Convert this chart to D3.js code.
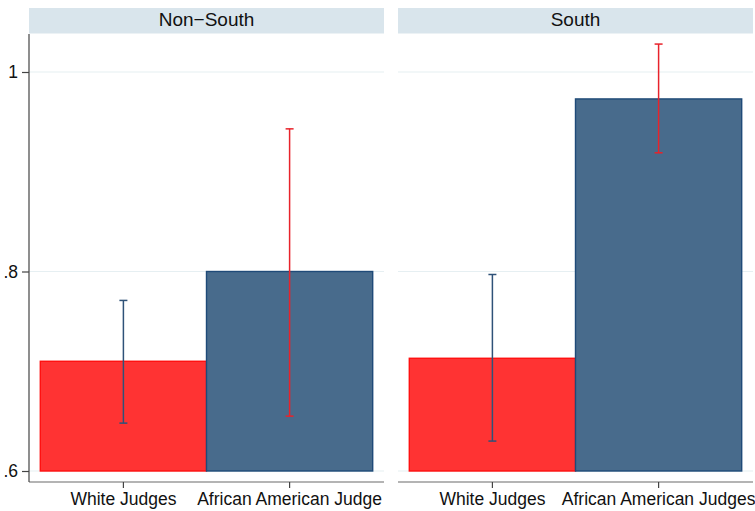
<!DOCTYPE html>
<html>
<head>
<meta charset="utf-8">
<title>Judges by region</title>
<style>
  body { margin: 0; background: #fff; font-family: "Liberation Sans", Arial, Helvetica, sans-serif; }
  text { font-family: "Liberation Sans", Arial, Helvetica, sans-serif; }
</style>
</head>
<body>
<svg id="chart"></svg>
<script src="https://d3js.org/d3.v7.min.js"></script>
<script>
// data
const panels = ["Non\u2212South", "South"];
const groups = ["white", "black"];
const groupLabels = [
  ["White Judges", "African American Judge"],
  ["White Judges", "African American Judges"]
];
const means = [[0.710, 0.800], [0.713, 0.973]];
const lower = [[0.648, 0.655], [0.630, 0.919]];
const upper = [[0.771, 0.943], [0.797, 1.028]];
const yTicks = [0.6, 0.8, 1];

const width = 755, height = 511;
const barFill = ["#ff3333", "#486b8c"];
const barStroke = ["#ff1010", "#1f4a78"];
const errColor = ["#2f5278", "#e8232b"];

const svg = d3.select("#chart").attr("width", width).attr("height", height);

const panelX = [29, 398];
const panelW = 355;
const plotTop = 34, plotBottom = 482;

const y = d3.scaleLinear().domain([0.6, 1]).range([471, 72]);
const x = d3.scaleBand().domain(groups).range([0, panelW]).paddingInner(0).paddingOuter(0.068);

function translate(a, b) { return "translate(" + a + "," + b + ")"; }
const fmt = d => d === 1 ? "1" : d3.format(".1f")(d).replace(/^0/, "");

panels.forEach((name, p) => {
  const g = svg.append("g").attr("transform", translate(panelX[p], 0));

  // header strip
  g.append("rect")
    .attr("x", 0).attr("y", 8)
    .attr("width", panelW).attr("height", 25.5)
    .attr("fill", "#d9e5ec");
  g.append("text")
    .attr("x", panelW / 2).attr("y", 26)
    .attr("text-anchor", "middle")
    .style("font-size", "19px")
    .attr("fill", "#111")
    .text(name);

  // gridlines
  g.append("g").selectAll("line")
    .data(yTicks)
    .enter().append("line")
      .attr("x1", 0).attr("x2", panelW)
      .attr("y1", d => y(d)).attr("y2", d => y(d))
      .attr("stroke", "#e6eff2")
      .attr("stroke-width", 1.2);

  // bars
  g.append("g").selectAll("rect")
    .data(groups)
    .enter().append("rect")
      .attr("x", d => x(d))
      .attr("width", x.bandwidth())
      .attr("y", (d, i) => y(means[p][i]))
      .attr("height", (d, i) => y(0.6) - y(means[p][i]))
      .attr("fill", (d, i) => barFill[i])
      .attr("stroke", (d, i) => barStroke[i])
      .attr("stroke-width", 1.4);

  // error bars
  const eb = g.append("g").selectAll("g")
    .data(groups)
    .enter().append("g")
      .attr("stroke", (d, i) => errColor[i])
      .attr("stroke-width", 1.5);
  const cx = d => x(d) + x.bandwidth() / 2;
  eb.append("line")
    .attr("x1", cx).attr("x2", cx)
    .attr("y1", (d, i) => y(lower[p][i]))
    .attr("y2", (d, i) => y(upper[p][i]));
  eb.append("line")
    .attr("x1", d => cx(d) - 4).attr("x2", d => cx(d) + 4)
    .attr("y1", (d, i) => y(upper[p][i])).attr("y2", (d, i) => y(upper[p][i]));
  eb.append("line")
    .attr("x1", d => cx(d) - 4).attr("x2", d => cx(d) + 4)
    .attr("y1", (d, i) => y(lower[p][i])).attr("y2", (d, i) => y(lower[p][i]));

  // x axis
  const xAxis = g.append("g")
    .attr("transform", translate(0, plotBottom))
    .call(d3.axisBottom(x).tickSize(6).tickPadding(5).tickFormat((d, i) => groupLabels[p][i]));
  xAxis.select(".domain").attr("d", "M0,0H" + panelW).attr("stroke", "#6a6a6a").attr("stroke-width", 1.2);
  xAxis.selectAll(".tick line").attr("stroke", "#444").attr("stroke-width", 1.2);
  xAxis.selectAll(".tick text").style("font-size", "17.5px").attr("fill", "#111");

  // y axis, left panel only
  if (p === 0) {
    const yAxis = g.append("g")
      .call(d3.axisLeft(y).tickValues(yTicks).tickSize(7).tickPadding(4).tickFormat(fmt));
    yAxis.select(".domain").attr("d", "M0," + plotTop + "V" + plotBottom).attr("stroke", "#444").attr("stroke-width", 1.2);
    yAxis.selectAll(".tick line").attr("stroke", "#444").attr("stroke-width", 1.2);
    yAxis.selectAll(".tick text").style("font-size", "17.5px").attr("fill", "#111");
  }
});
</script>
</body>
</html>
